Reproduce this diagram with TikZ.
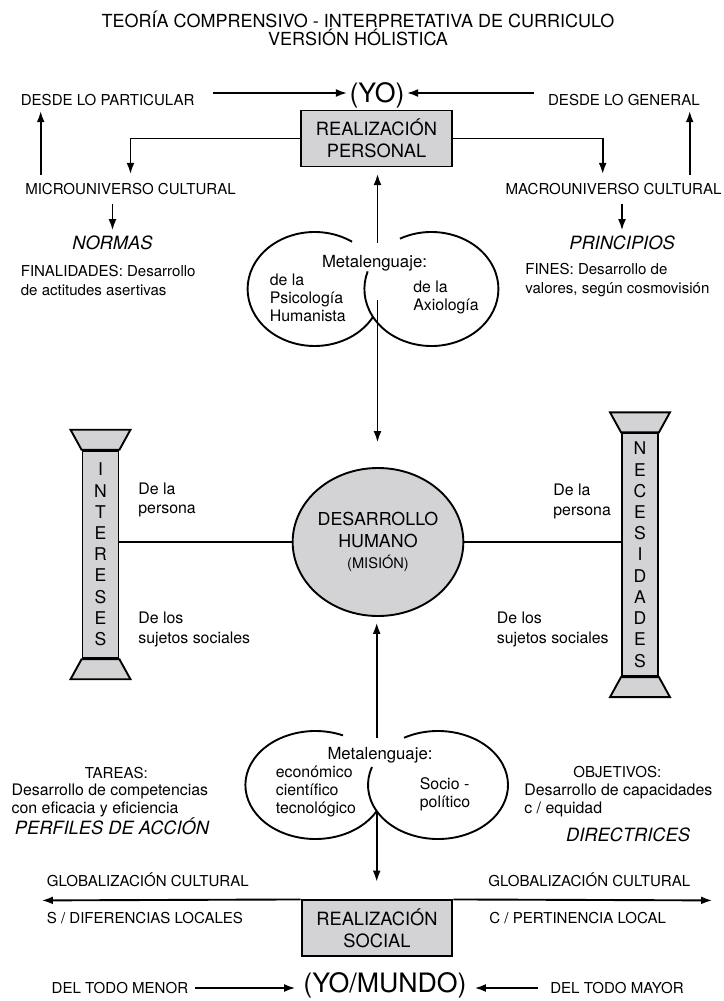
\documentclass[tikz,border=0pt]{standalone}
\usepackage{fontspec}
\setmainfont{TeX Gyre Heros}
\usetikzlibrary{arrows.meta,shapes.geometric}
\definecolor{boxgray}{RGB}{211,211,213}

\begin{document}
\begin{tikzpicture}[x=0.25cm,y=0.25cm,line width=1.35pt,
  >={Latex[length=8pt,width=5.6pt]},
  lbl/.style={font=\fontsize{10.7}{13.6}\selectfont,inner sep=1pt,align=left},
  meta/.style={font=\fontsize{11.3}{12.9}\selectfont,inner sep=1pt,align=left},
  side/.style={font=\fontsize{11.3}{14}\selectfont,inner sep=1pt,align=left},
  head/.style={font=\fontsize{13}{15}\selectfont\itshape,inner sep=1pt},
  big/.style={font=\fontsize{19}{22}\selectfont,inner sep=1pt},
  realbox/.style={draw,fill=boxgray,minimum width=3.77cm,minimum height=1.4cm,inner sep=0pt,align=center,font=\fontsize{13}{15.6}\selectfont},
  hub/.style={draw,ellipse,fill=boxgray,minimum width=4.15cm,minimum height=3.7cm,inner sep=0pt,align=center,font=\fontsize{12.7}{15.4}\selectfont},
  pillar/.style={draw,fill=boxgray,minimum width=0.9cm,inner sep=0pt,align=center,font=\fontsize{12.5}{15.1}\selectfont}]
\useasboundingbox (0,0) rectangle (72.4,-100.1);

\node[lbl,align=center,font=\fontsize{12.8}{11.9}\selectfont] (title) at (35.8,-2.83) {TEORÍA COMPRENSIVO - INTERPRETATIVA DE CURRICULO\\VERSIÓN HÓLISTICA};

%% nodes (top)
\node[big] (yo) at (37.7,-9.55) {(YO)};
\node[lbl,anchor=west] (particular) at (1.85,-10.0) {DESDE LO PARTICULAR};
\node[lbl,anchor=east] (general) at (70.2,-10.0) {DESDE LO GENERAL};
\node[realbox] (rp) at (37.65,-13.85) {REALIZACIÓN\\PERSONAL};
\node[lbl] (micro) at (13.05,-18.93) {MICROUNIVERSO CULTURAL};
\node[lbl] (macro) at (61.35,-18.93) {MACROUNIVERSO CULTURAL};
\node[head] (normas) at (11.25,-24.33) {NORMAS};
\node[head] (principios) at (62.2,-24.33) {PRINCIPIOS};
\node[lbl,anchor=west] (finalidades) at (1.85,-28.08) {FINALIDADES: Desarrollo\\de actitudes asertivas};
\node[lbl,anchor=west] (fines) at (52.3,-28.0) {FINES: Desarrollo de\\valores, según cosmovisión};

%%% edges (top)
\coordinate (p1) at (21.3,-9.3);
\coordinate (g1) at (53.4,-9.3);
\coordinate (upl) at (4.07,-17.5);
\coordinate (upr) at (68.97,-17.5);
\draw[->] (p1) -- (p1 -| yo.west);
\draw[->] (g1) -- (g1 -| yo.east);
\draw[->,shorten >=5pt] (rp.west) -| (micro.north);
\draw[->,shorten >=5pt] (rp.east) -| ([xshift=-2.7mm]macro.north);
\draw[->,shorten >=2pt] (upl) -- (upl |- particular.south);
\draw[->,shorten >=2pt] (upr) -- (upr |- general.south);
\draw[->,shorten <=4.5pt,shorten >=2.5pt] (micro.south -| normas.north) -- (normas.north);
\draw[->,shorten <=4.5pt,shorten >=2.5pt] (macro.south -| principios.north) -- (principios.north);

%% metalenguaje (top)
\coordinate (mlA) at (31.46,-28.9);
\coordinate (mrA) at (43.14,-28.9);
\draw (mlA) ++(56:6.7 and 5.7) arc[start angle=56,end angle=330.6,x radius=6.7,y radius=5.7];
\draw (mrA) ++(118:6.7 and 5.7) arc[start angle=118,end angle=-198,x radius=6.7,y radius=5.7];
\node[meta,font=\fontsize{11.9}{13}\selectfont] (metaA) at (37.45,-26.3) {Metalenguaje:};
\node[meta,anchor=west] (psico) at (26.75,-29.8) {de la\\Psicología\\Humanista};
\node[meta,anchor=west] (axio) at (41.1,-29.75) {de la\\Axiología};

%% centre
\node[hub] (dh) at (37.8,-54.2) {DESARROLLO\\HUMANO\\{\fontsize{10.4}{12}\selectfont(MISIÓN)}};
\node[pillar,minimum height=5.19cm] (intereses) at (10.05,-55.45) {I\\N\\T\\E\\R\\E\\S\\E\\S};
\node[pillar,minimum height=6.07cm] (necesidades) at (64.0,-55.47) {N\\E\\C\\E\\S\\I\\D\\A\\D\\E\\S};
\foreach \p in {intereses,necesidades} {
  \draw[fill=boxgray] (\p.north west) -- ++(-1.1,2) -- ([shift={(1.1,2)}]\p.north east) -- (\p.north east) -- cycle;
  \draw[fill=boxgray] (\p.south west) -- ++(-1.1,-2) -- ([shift={(1.1,-2)}]\p.south east) -- (\p.south east) -- cycle;
}
\node[side,anchor=west] (persL) at (13.6,-50.0) {De la\\persona};
\node[side,anchor=west] (socL) at (13.6,-62.97) {De los\\sujetos sociales};
\node[side,anchor=west] (persR) at (55.1,-50.17) {De la\\persona};
\node[side,anchor=west] (socR) at (49.45,-62.97) {De los\\sujetos sociales};
\draw (dh.west) -- (dh.west -| intereses.east);
\draw (dh.east) -- (dh.east -| necesidades.west);

\coordinate (upA) at (37.75,-24.3);
\coordinate (downA) at (37.75,-30.0);
\draw[->,shorten >=4.5pt] (upA) -- (upA |- rp.south);
\draw[->,shorten >=17.5pt] (downA) -- (downA |- dh.north);

%% metalenguaje (bottom)
\coordinate (mlB) at (31.54,-78.5);
\coordinate (mrB) at (43.8,-78.5);
\draw (mlB) ++(66.8:7 and 5.4) arc[start angle=66.8,end angle=331.2,x radius=7,y radius=5.4];
\draw (mrB) ++(119:7 and 5.4) arc[start angle=119,end angle=-199.5,x radius=7,y radius=5.4];
\node[meta,font=\fontsize{11.9}{13}\selectfont] (metaB) at (38.0,-75.5) {Metalenguaje:};
\node[meta,anchor=west] (econ) at (27.35,-79.17) {económico\\científico\\tecnológico};
\node[meta,anchor=west] (socio) at (41.75,-79.4) {Socio -\\político};

\node[lbl] (tareas) at (11.63,-77.33) {TAREAS:};
\node[meta,anchor=west] (competencias) at (0.93,-80.08) {Desarrollo de competencias\\con eficacia y eficiencia};
\node[head] (perfiles) at (11.2,-82.67) {PERFILES DE ACCIÓN};
\node[lbl] (objetivos) at (61.73,-77.17) {OBJETIVOS:};
\node[meta,anchor=west] (capacidades) at (52.2,-80.08) {Desarrollo de capacidades\\c / equidad};
\node[head] (directrices) at (62.8,-83.5) {DIRECTRICES};

%% bottom
\node[lbl,anchor=west] (globL) at (4.45,-88.0) {GLOBALIZACIÓN CULTURAL};
\node[lbl,anchor=west] (difL) at (4.45,-91.77) {S / DIFERENCIAS LOCALES};
\node[lbl,anchor=west] (globR) at (48.6,-88.0) {GLOBALIZACIÓN CULTURAL};
\node[lbl,anchor=west] (pertR) at (48.7,-91.77) {C / PERTINENCIA LOCAL};
\node[realbox] (rs) at (37.7,-92.84) {REALIZACIÓN\\SOCIAL};
\node[big] (yomundo) at (38.5,-98.5) {(YO/MUNDO)};
\node[lbl,anchor=west] (menor) at (4.93,-98.8) {DEL TODO MENOR};
\node[lbl,anchor=east] (mayor) at (68.6,-98.8) {DEL TODO MAYOR};

%%% edges (bottom)
\coordinate (upB) at (37.67,-73.8);
\coordinate (downB) at (37.67,-81.2);
\coordinate (gl) at (4.17,-90.04);
\coordinate (gr) at (71.23,-90.04);
\draw[->,shorten >=4pt] (upB) -- (upB |- dh.south);
\draw[->,shorten >=12.5pt] (downB) -- (downB |- rs.north);
\draw[->] (rs.north west) -- (gl);
\draw[->] (rs.north east) -- (gr);
\draw[->,shorten <=3pt,shorten >=4pt] (menor.east) -- (menor.east -| yomundo.west);
\draw[->,shorten <=7pt,shorten >=4pt] (mayor.west) -- (mayor.west -| yomundo.east);
\end{tikzpicture}
\end{document}
